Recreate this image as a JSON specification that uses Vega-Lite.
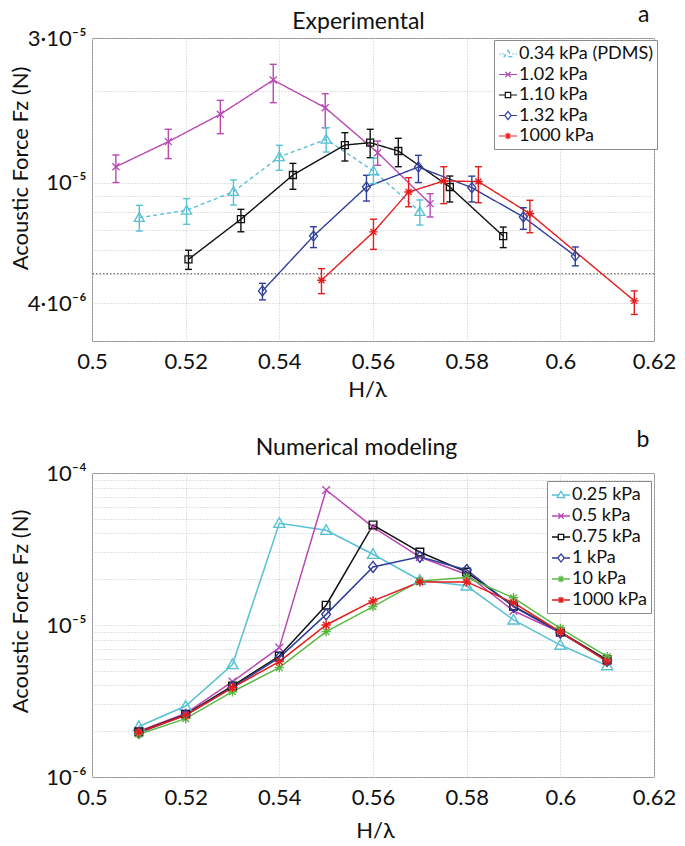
{
  "$schema": "https://vega.github.io/schema/vega-lite/v6.json",
  "padding": {"left": 8, "top": 2, "right": 5, "bottom": 5},
  "bounds": "flush",
  "spacing": 132,
  "resolve": {"scale": {"color": "independent", "shape": "independent", "strokeDash": "independent", "x": "independent", "y": "independent"}, "legend": {"color": "independent", "shape": "independent", "strokeDash": "independent"}},
  "config": {
    "font": "Lato",
    "view": {"stroke": "#8c8c8c", "strokeWidth": 1},
    "axis": {"labelFont": "Lato", "titleFont": "Lato", "labelFontSize": 22, "titleFontSize": 22, "labelColor": "#111111", "titleColor": "#111111", "titleFontWeight": "normal", "domain": false, "ticks": false, "gridColor": "#c4c4c4", "gridDash": [1, 2], "gridWidth": 1, "labelOverlap": false},
    "legend": {"labelFont": "Lato", "labelFontSize": 18, "labelColor": "#111111"}
  },
  "datasets": {
    "exp": [
      {"series": "0.34 kPa (PDMS)", "x": 0.5101, "y": 7.66e-6, "lo": 6.92e-6, "hi": 8.41e-6},
      {"series": "0.34 kPa (PDMS)", "x": 0.5202, "y": 8.10e-6, "lo": 7.28e-6, "hi": 8.85e-6},
      {"series": "0.34 kPa (PDMS)", "x": 0.5302, "y": 9.33e-6, "lo": 8.43e-6, "hi": 1.02e-5},
      {"series": "0.34 kPa (PDMS)", "x": 0.5400, "y": 1.215e-5, "lo": 1.098e-5, "hi": 1.327e-5},
      {"series": "0.34 kPa (PDMS)", "x": 0.5500, "y": 1.389e-5, "lo": 1.261e-5, "hi": 1.517e-5},
      {"series": "0.34 kPa (PDMS)", "x": 0.5601, "y": 1.092e-5, "lo": 9.92e-6, "hi": 1.203e-5},
      {"series": "0.34 kPa (PDMS)", "x": 0.5700, "y": 8.02e-6, "lo": 7.24e-6, "hi": 8.76e-6},
      {"series": "1.02 kPa", "x": 0.5051, "y": 1.128e-5, "lo": 1.0e-5, "hi": 1.233e-5},
      {"series": "1.02 kPa", "x": 0.5163, "y": 1.365e-5, "lo": 1.2e-5, "hi": 1.499e-5},
      {"series": "1.02 kPa", "x": 0.5274, "y": 1.68e-5, "lo": 1.45e-5, "hi": 1.868e-5},
      {"series": "1.02 kPa", "x": 0.5387, "y": 2.18e-5, "lo": 1.835e-5, "hi": 2.456e-5},
      {"series": "1.02 kPa", "x": 0.5498, "y": 1.766e-5, "lo": 1.517e-5, "hi": 1.965e-5},
      {"series": "1.02 kPa", "x": 0.5610, "y": 1.255e-5, "lo": 1.14e-5, "hi": 1.371e-5},
      {"series": "1.02 kPa", "x": 0.5722, "y": 8.52e-6, "lo": 7.70e-6, "hi": 9.19e-6},
      {"series": "1.10 kPa", "x": 0.5206, "y": 5.58e-6, "lo": 5.17e-6, "hi": 5.98e-6},
      {"series": "1.10 kPa", "x": 0.5318, "y": 7.57e-6, "lo": 6.88e-6, "hi": 8.16e-6},
      {"series": "1.10 kPa", "x": 0.5429, "y": 1.059e-5, "lo": 9.5e-6, "hi": 1.157e-5},
      {"series": "1.10 kPa", "x": 0.5540, "y": 1.33e-5, "lo": 1.178e-5, "hi": 1.461e-5},
      {"series": "1.10 kPa", "x": 0.5594, "y": 1.354e-5, "lo": 1.208e-5, "hi": 1.499e-5},
      {"series": "1.10 kPa", "x": 0.5654, "y": 1.271e-5, "lo": 1.128e-5, "hi": 1.40e-5},
      {"series": "1.10 kPa", "x": 0.5764, "y": 9.67e-6, "lo": 8.63e-6, "hi": 1.051e-5},
      {"series": "1.10 kPa", "x": 0.5878, "y": 6.66e-6, "lo": 6.1e-6, "hi": 7.13e-6},
      {"series": "1.32 kPa", "x": 0.5364, "y": 4.39e-6, "lo": 4.1e-6, "hi": 4.65e-6},
      {"series": "1.32 kPa", "x": 0.5473, "y": 6.66e-6, "lo": 6.1e-6, "hi": 7.15e-6},
      {"series": "1.32 kPa", "x": 0.5586, "y": 9.67e-6, "lo": 8.69e-6, "hi": 1.057e-5},
      {"series": "1.32 kPa", "x": 0.5697, "y": 1.125e-5, "lo": 1.0e-5, "hi": 1.23e-5},
      {"series": "1.32 kPa", "x": 0.5811, "y": 9.62e-6, "lo": 8.63e-6, "hi": 1.05e-5},
      {"series": "1.32 kPa", "x": 0.5921, "y": 7.70e-6, "lo": 7.01e-6, "hi": 8.26e-6},
      {"series": "1.32 kPa", "x": 0.6032, "y": 5.72e-6, "lo": 5.31e-6, "hi": 6.13e-6},
      {"series": "1000 kPa", "x": 0.5490, "y": 4.76e-6, "lo": 4.30e-6, "hi": 5.2e-6},
      {"series": "1000 kPa", "x": 0.5601, "y": 6.87e-6, "lo": 6.02e-6, "hi": 7.57e-6},
      {"series": "1000 kPa", "x": 0.5676, "y": 9.31e-6, "lo": 8.32e-6, "hi": 1.038e-5},
      {"series": "1000 kPa", "x": 0.5751, "y": 1.012e-5, "lo": 8.52e-6, "hi": 1.128e-5},
      {"series": "1000 kPa", "x": 0.5825, "y": 1.008e-5, "lo": 8.58e-6, "hi": 1.128e-5},
      {"series": "1000 kPa", "x": 0.5935, "y": 7.89e-6, "lo": 6.83e-6, "hi": 8.74e-6},
      {"series": "1000 kPa", "x": 0.6158, "y": 4.07e-6, "lo": 3.67e-6, "hi": 4.39e-6}
    ],
    "num": [
      {"series": "0.25 kPa", "x": 0.51, "y": 2.15e-6},
      {"series": "0.25 kPa", "x": 0.52, "y": 2.93e-6},
      {"series": "0.25 kPa", "x": 0.53, "y": 5.5e-6},
      {"series": "0.25 kPa", "x": 0.54, "y": 4.67e-5},
      {"series": "0.25 kPa", "x": 0.55, "y": 4.2e-5},
      {"series": "0.25 kPa", "x": 0.56, "y": 2.92e-5},
      {"series": "0.25 kPa", "x": 0.57, "y": 1.97e-5},
      {"series": "0.25 kPa", "x": 0.58, "y": 1.81e-5},
      {"series": "0.25 kPa", "x": 0.59, "y": 1.08e-5},
      {"series": "0.25 kPa", "x": 0.60, "y": 7.38e-6},
      {"series": "0.25 kPa", "x": 0.61, "y": 5.4e-6},
      {"series": "0.5 kPa", "x": 0.51, "y": 2.0e-6},
      {"series": "0.5 kPa", "x": 0.52, "y": 2.62e-6},
      {"series": "0.5 kPa", "x": 0.53, "y": 4.24e-6},
      {"series": "0.5 kPa", "x": 0.54, "y": 7.1e-6},
      {"series": "0.5 kPa", "x": 0.55, "y": 7.73e-5},
      {"series": "0.5 kPa", "x": 0.56, "y": 4.41e-5},
      {"series": "0.5 kPa", "x": 0.57, "y": 2.8e-5},
      {"series": "0.5 kPa", "x": 0.58, "y": 2.15e-5},
      {"series": "0.5 kPa", "x": 0.59, "y": 1.24e-5},
      {"series": "0.5 kPa", "x": 0.60, "y": 8.9e-6},
      {"series": "0.5 kPa", "x": 0.61, "y": 5.86e-6},
      {"series": "0.75 kPa", "x": 0.51, "y": 1.98e-6},
      {"series": "0.75 kPa", "x": 0.52, "y": 2.58e-6},
      {"series": "0.75 kPa", "x": 0.53, "y": 3.97e-6},
      {"series": "0.75 kPa", "x": 0.54, "y": 6.25e-6},
      {"series": "0.75 kPa", "x": 0.55, "y": 1.35e-5},
      {"series": "0.75 kPa", "x": 0.56, "y": 4.55e-5},
      {"series": "0.75 kPa", "x": 0.57, "y": 3.02e-5},
      {"series": "0.75 kPa", "x": 0.58, "y": 2.23e-5},
      {"series": "0.75 kPa", "x": 0.59, "y": 1.33e-5},
      {"series": "0.75 kPa", "x": 0.60, "y": 9.0e-6},
      {"series": "0.75 kPa", "x": 0.61, "y": 5.9e-6},
      {"series": "1 kPa", "x": 0.51, "y": 1.95e-6},
      {"series": "1 kPa", "x": 0.52, "y": 2.56e-6},
      {"series": "1 kPa", "x": 0.53, "y": 3.9e-6},
      {"series": "1 kPa", "x": 0.54, "y": 6.1e-6},
      {"series": "1 kPa", "x": 0.55, "y": 1.175e-5},
      {"series": "1 kPa", "x": 0.56, "y": 2.41e-5},
      {"series": "1 kPa", "x": 0.57, "y": 2.81e-5},
      {"series": "1 kPa", "x": 0.58, "y": 2.3e-5},
      {"series": "1 kPa", "x": 0.59, "y": 1.32e-5},
      {"series": "1 kPa", "x": 0.60, "y": 8.9e-6},
      {"series": "1 kPa", "x": 0.61, "y": 5.8e-6},
      {"series": "10 kPa", "x": 0.51, "y": 1.91e-6},
      {"series": "10 kPa", "x": 0.52, "y": 2.42e-6},
      {"series": "10 kPa", "x": 0.53, "y": 3.64e-6},
      {"series": "10 kPa", "x": 0.54, "y": 5.24e-6},
      {"series": "10 kPa", "x": 0.55, "y": 9.04e-6},
      {"series": "10 kPa", "x": 0.56, "y": 1.32e-5},
      {"series": "10 kPa", "x": 0.57, "y": 1.95e-5},
      {"series": "10 kPa", "x": 0.58, "y": 2.05e-5},
      {"series": "10 kPa", "x": 0.59, "y": 1.51e-5},
      {"series": "10 kPa", "x": 0.60, "y": 9.5e-6},
      {"series": "10 kPa", "x": 0.61, "y": 6.2e-6},
      {"series": "1000 kPa", "x": 0.51, "y": 1.97e-6},
      {"series": "1000 kPa", "x": 0.52, "y": 2.55e-6},
      {"series": "1000 kPa", "x": 0.53, "y": 3.87e-6},
      {"series": "1000 kPa", "x": 0.54, "y": 5.74e-6},
      {"series": "1000 kPa", "x": 0.55, "y": 1.0e-5},
      {"series": "1000 kPa", "x": 0.56, "y": 1.44e-5},
      {"series": "1000 kPa", "x": 0.57, "y": 1.92e-5},
      {"series": "1000 kPa", "x": 0.58, "y": 1.92e-5},
      {"series": "1000 kPa", "x": 0.59, "y": 1.40e-5},
      {"series": "1000 kPa", "x": 0.60, "y": 9.0e-6},
      {"series": "1000 kPa", "x": 0.61, "y": 5.75e-6}
    ]
  },
  "vconcat": [
    {
      "width": 562,
      "height": 303,
      "data": {"name": "exp"},
      "resolve": {"axis": {"x": "independent", "y": "independent"}},
      "layer": [
        {
          "data": {"values": [{"ref": 5e-6}]},
          "mark": {"type": "rule", "color": "#4a4a4a", "strokeDash": [1.5, 2], "strokeWidth": 1},
          "encoding": {
            "y": {"field": "ref", "type": "quantitative", "scale": {"type": "log", "domain": [3e-6, 3e-5], "nice": false}, "axis": null}
          }
        },
        {
          "mark": {"type": "line", "strokeWidth": 1.4},
          "encoding": {
            "x": {"field": "x", "type": "quantitative", "scale": {"domain": [0.5, 0.62], "nice": false, "zero": false},
              "axis": {"values": [0.5, 0.52, 0.54, 0.56, 0.58, 0.6, 0.62], "format": ".2~f", "labelFlush": false, "labelPadding": 10, "grid": true, "title": "H/λ", "titleX": 275, "titleY": 55, "titleAlign": "center", "titleBaseline": "alphabetic"}},
            "y": {"field": "y", "type": "quantitative", "scale": {"type": "log", "domain": [3e-6, 3e-5], "nice": false},
              "axis": {"values": [3e-6, 4e-6, 5e-6, 6e-6, 7e-6, 8e-6, 9e-6, 1e-5, 2e-5, 3e-5], "labelExpr": "datum.value > 2.9e-5 ? '3·10⁻⁵' : (datum.value > 0.99e-5 && datum.value < 1.01e-5) ? '10⁻⁵' : (datum.value > 3.99e-6 && datum.value < 4.01e-6) ? '4·10⁻⁶' : ''", "labelPadding": 6, "grid": true, "title": "Acoustic Force Fz (N)", "titleAngle": -90, "titleX": -65, "titleY": 130, "titleAlign": "center", "titleBaseline": "alphabetic"}},
            "color": {"field": "series", "type": "nominal",
              "scale": {"domain": ["0.34 kPa (PDMS)", "1.02 kPa", "1.10 kPa", "1.32 kPa", "1000 kPa"], "range": ["#56c1d3", "#b848b4", "#111111", "#2f3f9a", "#e41c1c"]},
              "legend": {"title": null, "orient": "none", "legendX": 402, "legendY": 2, "padding": 4, "strokeColor": "#8c8c8c", "fillColor": "white", "labelFontSize": 18, "symbolSize": 324, "symbolStrokeWidth": 1.2, "symbolOpacity": 1, "symbolFillColor": "transparent", "labelOffset": 1, "rowPadding": 1.5}},
            "strokeDash": {"field": "series", "type": "nominal", "scale": {"domain": ["0.34 kPa (PDMS)", "1.02 kPa", "1.10 kPa", "1.32 kPa", "1000 kPa"], "range": [[4, 3], [1, 0], [1, 0], [1, 0], [1, 0]]}, "legend": null}
          }
        },
        {
          "mark": {"type": "rule", "strokeWidth": 1.4},
          "encoding": {
            "x": {"field": "x", "type": "quantitative", "scale": {"domain": [0.5, 0.62], "nice": false, "zero": false},
              "axis": {"orient": "top", "labels": false, "grid": false, "title": "Experimental", "titleFontSize": 23, "titleX": 266, "titleY": -10, "titleAlign": "center", "titleBaseline": "alphabetic"}},
            "y": {"field": "lo", "type": "quantitative", "scale": {"type": "log", "domain": [3e-6, 3e-5], "nice": false},
              "axis": {"orient": "right", "labels": false, "grid": false, "title": "a", "titleFontSize": 23, "titleAngle": 0, "titleX": -5, "titleY": -17, "titleAlign": "right", "titleBaseline": "alphabetic"}},
            "y2": {"field": "hi"},
            "color": {"field": "series", "type": "nominal", "scale": {"domain": ["0.34 kPa (PDMS)", "1.02 kPa", "1.10 kPa", "1.32 kPa", "1000 kPa"], "range": ["#56c1d3", "#b848b4", "#111111", "#2f3f9a", "#e41c1c"]}}
          }
        },
        {
          "mark": {"type": "rule", "strokeWidth": 1.4, "xOffset": -3.5, "x2Offset": 3.5},
          "encoding": {
            "x": {"field": "x", "type": "quantitative", "scale": {"domain": [0.5, 0.62], "nice": false, "zero": false}, "axis": null},
            "x2": {"field": "x"},
            "y": {"field": "lo", "type": "quantitative", "scale": {"type": "log", "domain": [3e-6, 3e-5], "nice": false}, "axis": null},
            "color": {"field": "series", "type": "nominal", "scale": {"domain": ["0.34 kPa (PDMS)", "1.02 kPa", "1.10 kPa", "1.32 kPa", "1000 kPa"], "range": ["#56c1d3", "#b848b4", "#111111", "#2f3f9a", "#e41c1c"]}}
          }
        },
        {
          "mark": {"type": "rule", "strokeWidth": 1.4, "xOffset": -3.5, "x2Offset": 3.5},
          "encoding": {
            "x": {"field": "x", "type": "quantitative", "scale": {"domain": [0.5, 0.62], "nice": false, "zero": false}, "axis": null},
            "x2": {"field": "x"},
            "y": {"field": "hi", "type": "quantitative", "scale": {"type": "log", "domain": [3e-6, 3e-5], "nice": false}, "axis": null},
            "color": {"field": "series", "type": "nominal", "scale": {"domain": ["0.34 kPa (PDMS)", "1.02 kPa", "1.10 kPa", "1.32 kPa", "1000 kPa"], "range": ["#56c1d3", "#b848b4", "#111111", "#2f3f9a", "#e41c1c"]}}
          }
        },
        {
          "transform": [{"filter": "datum.series == '0.34 kPa (PDMS)'"}],
          "mark": {"type": "point", "filled": false, "shape": "M0,-1L1,0.75H-1Z", "size": 100, "strokeWidth": 1.3, "color": "#56c1d3", "opacity": 1},
          "encoding": {
            "x": {"field": "x", "type": "quantitative", "scale": {"domain": [0.5, 0.62], "nice": false, "zero": false}, "axis": null},
            "y": {"field": "y", "type": "quantitative", "scale": {"type": "log", "domain": [3e-6, 3e-5], "nice": false}, "axis": null}
          }
        },
        {
          "transform": [{"filter": "datum.series == '1.02 kPa'"}],
          "mark": {"type": "point", "filled": false, "shape": "M-0.7,-0.7L0.7,0.7M-0.7,0.7L0.7,-0.7", "size": 100, "strokeWidth": 1.3, "color": "#b848b4", "opacity": 1},
          "encoding": {
            "x": {"field": "x", "type": "quantitative", "scale": {"domain": [0.5, 0.62], "nice": false, "zero": false}, "axis": null},
            "y": {"field": "y", "type": "quantitative", "scale": {"type": "log", "domain": [3e-6, 3e-5], "nice": false}, "axis": null}
          }
        },
        {
          "transform": [{"filter": "datum.series == '1.10 kPa'"}],
          "mark": {"type": "point", "filled": false, "shape": "M-0.7,-0.7H0.7V0.7H-0.7Z", "size": 100, "strokeWidth": 1.3, "color": "#111111", "opacity": 1},
          "encoding": {
            "x": {"field": "x", "type": "quantitative", "scale": {"domain": [0.5, 0.62], "nice": false, "zero": false}, "axis": null},
            "y": {"field": "y", "type": "quantitative", "scale": {"type": "log", "domain": [3e-6, 3e-5], "nice": false}, "axis": null}
          }
        },
        {
          "transform": [{"filter": "datum.series == '1.32 kPa'"}],
          "mark": {"type": "point", "filled": false, "shape": "M0,-1L0.8,0L0,1L-0.8,0Z", "size": 100, "strokeWidth": 1.3, "color": "#2f3f9a", "opacity": 1},
          "encoding": {
            "x": {"field": "x", "type": "quantitative", "scale": {"domain": [0.5, 0.62], "nice": false, "zero": false}, "axis": null},
            "y": {"field": "y", "type": "quantitative", "scale": {"type": "log", "domain": [3e-6, 3e-5], "nice": false}, "axis": null}
          }
        },
        {
          "transform": [{"filter": "datum.series == '1000 kPa'"}],
          "mark": {"type": "point", "filled": false, "shape": "M-0.85,0H0.85M0,-0.85V0.85M-0.6,-0.6L0.6,0.6M-0.6,0.6L0.6,-0.6", "size": 100, "strokeWidth": 1.3, "color": "#e41c1c", "opacity": 1},
          "encoding": {
            "x": {"field": "x", "type": "quantitative", "scale": {"domain": [0.5, 0.62], "nice": false, "zero": false}, "axis": null},
            "y": {"field": "y", "type": "quantitative", "scale": {"type": "log", "domain": [3e-6, 3e-5], "nice": false}, "axis": null}
          }
        },
        {
          "mark": {"type": "point", "filled": false, "strokeWidth": 1.2, "opacity": 0},
          "encoding": {
            "x": {"field": "x", "type": "quantitative", "scale": {"domain": [0.5, 0.62], "nice": false, "zero": false}, "axis": null},
            "y": {"field": "y", "type": "quantitative", "scale": {"type": "log", "domain": [3e-6, 3e-5], "nice": false}, "axis": null},
            "color": {"field": "series", "type": "nominal", "scale": {"domain": ["0.34 kPa (PDMS)", "1.02 kPa", "1.10 kPa", "1.32 kPa", "1000 kPa"], "range": ["#56c1d3", "#b848b4", "#111111", "#2f3f9a", "#e41c1c"]}},
            "shape": {"field": "series", "type": "nominal", "legend": null,
              "scale": {"domain": ["0.34 kPa (PDMS)", "1.02 kPa", "1.10 kPa", "1.32 kPa", "1000 kPa"], "range": ["M-1,0H-0.82M-0.66,0H-0.48M0.48,0H0.66M0.82,0H1M0,-0.42L0.42,0.3H-0.42Z", "M-1,0H1M-0.3,-0.3L0.3,0.3M-0.3,0.3L0.3,-0.3", "M-1,0H-0.3M0.3,0H1M-0.3,-0.3H0.3V0.3H-0.3Z", "M-1,0H-0.36M0.36,0H1M0,-0.45L0.36,0L0,0.45L-0.36,0Z", "M-1,0H1M0,-0.36V0.36M-0.27,-0.27L0.27,0.27M-0.27,0.27L0.27,-0.27"]}}
          }
        }
      ]
    },
    {
      "width": 562,
      "height": 304,
      "data": {"name": "num"},
      "resolve": {"axis": {"x": "independent", "y": "independent"}},
      "layer": [
        {
          "mark": {"type": "line", "strokeWidth": 1.5},
          "encoding": {
            "x": {"field": "x", "type": "quantitative", "scale": {"domain": [0.5, 0.62], "nice": false, "zero": false},
              "axis": {"values": [0.5, 0.52, 0.54, 0.56, 0.58, 0.6, 0.62], "format": ".2~f", "labelFlush": false, "labelPadding": 10, "grid": true, "title": "H/λ", "titleX": 283, "titleY": 60, "titleAlign": "center", "titleBaseline": "alphabetic"}},
            "y": {"field": "y", "type": "quantitative", "scale": {"type": "log", "domain": [1e-6, 1e-4], "nice": false},
              "axis": {"values": [1e-6, 2e-6, 3e-6, 4e-6, 5e-6, 6e-6, 7e-6, 8e-6, 9e-6, 1e-5, 2e-5, 3e-5, 4e-5, 5e-5, 6e-5, 7e-5, 8e-5, 9e-5, 1e-4], "labelExpr": "datum.value > 0.99e-4 ? '10⁻⁴' : (datum.value > 0.99e-5 && datum.value < 1.01e-5) ? '10⁻⁵' : (datum.value < 1.01e-6) ? '10⁻⁶' : ''", "labelPadding": 6, "grid": true, "title": "Acoustic Force Fz (N)", "titleAngle": -90, "titleX": -65, "titleY": 138, "titleAlign": "center", "titleBaseline": "alphabetic"}},
            "color": {"field": "series", "type": "nominal",
              "scale": {"domain": ["0.25 kPa", "0.5 kPa", "0.75 kPa", "1 kPa", "10 kPa", "1000 kPa"], "range": ["#56c1d3", "#b848b4", "#111111", "#2f3f9a", "#5cb845", "#e41c1c"]},
              "legend": {"title": null, "orient": "none", "legendX": 455, "legendY": 8, "padding": 4, "strokeColor": "#8c8c8c", "fillColor": "white", "labelFontSize": 18, "symbolSize": 324, "symbolStrokeWidth": 1.3, "symbolOpacity": 1, "symbolFillColor": "transparent", "labelOffset": 1, "rowPadding": 2}}
          }
        },
        {
          "transform": [{"filter": "datum.series == '0.25 kPa'"}],
          "mark": {"type": "point", "filled": false, "shape": "M0,-1L1,0.75H-1Z", "size": 121, "strokeWidth": 1.4, "color": "#56c1d3", "opacity": 1},
          "encoding": {
            "x": {"field": "x", "type": "quantitative", "scale": {"domain": [0.5, 0.62], "nice": false, "zero": false},
              "axis": {"orient": "top", "labels": false, "grid": false, "title": "Numerical modeling", "titleFontSize": 23, "titleX": 264, "titleY": -19, "titleAlign": "center", "titleBaseline": "alphabetic"}},
            "y": {"field": "y", "type": "quantitative", "scale": {"type": "log", "domain": [1e-6, 1e-4], "nice": false},
              "axis": {"orient": "right", "labels": false, "grid": false, "title": "b", "titleFontSize": 23, "titleAngle": 0, "titleX": -5, "titleY": -27, "titleAlign": "right", "titleBaseline": "alphabetic"}}
          }
        },
        {
          "transform": [{"filter": "datum.series == '0.5 kPa'"}],
          "mark": {"type": "point", "filled": false, "shape": "M-0.7,-0.7L0.7,0.7M-0.7,0.7L0.7,-0.7", "size": 121, "strokeWidth": 1.4, "color": "#b848b4", "opacity": 1},
          "encoding": {
            "x": {"field": "x", "type": "quantitative", "scale": {"domain": [0.5, 0.62], "nice": false, "zero": false}, "axis": null},
            "y": {"field": "y", "type": "quantitative", "scale": {"type": "log", "domain": [1e-6, 1e-4], "nice": false}, "axis": null}
          }
        },
        {
          "transform": [{"filter": "datum.series == '0.75 kPa'"}],
          "mark": {"type": "point", "filled": false, "shape": "M-0.7,-0.7H0.7V0.7H-0.7Z", "size": 121, "strokeWidth": 1.4, "color": "#111111", "opacity": 1},
          "encoding": {
            "x": {"field": "x", "type": "quantitative", "scale": {"domain": [0.5, 0.62], "nice": false, "zero": false}, "axis": null},
            "y": {"field": "y", "type": "quantitative", "scale": {"type": "log", "domain": [1e-6, 1e-4], "nice": false}, "axis": null}
          }
        },
        {
          "transform": [{"filter": "datum.series == '1 kPa'"}],
          "mark": {"type": "point", "filled": false, "shape": "M0,-1L0.8,0L0,1L-0.8,0Z", "size": 121, "strokeWidth": 1.4, "color": "#2f3f9a", "opacity": 1},
          "encoding": {
            "x": {"field": "x", "type": "quantitative", "scale": {"domain": [0.5, 0.62], "nice": false, "zero": false}, "axis": null},
            "y": {"field": "y", "type": "quantitative", "scale": {"type": "log", "domain": [1e-6, 1e-4], "nice": false}, "axis": null}
          }
        },
        {
          "transform": [{"filter": "datum.series == '10 kPa'"}],
          "mark": {"type": "point", "filled": false, "shape": "M-0.85,0H0.85M0,-0.85V0.85M-0.6,-0.6L0.6,0.6M-0.6,0.6L0.6,-0.6", "size": 121, "strokeWidth": 1.4, "color": "#5cb845", "opacity": 1},
          "encoding": {
            "x": {"field": "x", "type": "quantitative", "scale": {"domain": [0.5, 0.62], "nice": false, "zero": false}, "axis": null},
            "y": {"field": "y", "type": "quantitative", "scale": {"type": "log", "domain": [1e-6, 1e-4], "nice": false}, "axis": null}
          }
        },
        {
          "transform": [{"filter": "datum.series == '1000 kPa'"}],
          "mark": {"type": "point", "filled": false, "shape": "M-0.85,0H0.85M0,-0.85V0.85M-0.6,-0.6L0.6,0.6M-0.6,0.6L0.6,-0.6", "size": 121, "strokeWidth": 1.4, "color": "#e41c1c", "opacity": 1},
          "encoding": {
            "x": {"field": "x", "type": "quantitative", "scale": {"domain": [0.5, 0.62], "nice": false, "zero": false}, "axis": null},
            "y": {"field": "y", "type": "quantitative", "scale": {"type": "log", "domain": [1e-6, 1e-4], "nice": false}, "axis": null}
          }
        },
        {
          "mark": {"type": "point", "filled": false, "strokeWidth": 1.3, "opacity": 0},
          "encoding": {
            "x": {"field": "x", "type": "quantitative", "scale": {"domain": [0.5, 0.62], "nice": false, "zero": false}, "axis": null},
            "y": {"field": "y", "type": "quantitative", "scale": {"type": "log", "domain": [1e-6, 1e-4], "nice": false}, "axis": null},
            "color": {"field": "series", "type": "nominal", "scale": {"domain": ["0.25 kPa", "0.5 kPa", "0.75 kPa", "1 kPa", "10 kPa", "1000 kPa"], "range": ["#56c1d3", "#b848b4", "#111111", "#2f3f9a", "#5cb845", "#e41c1c"]}},
            "shape": {"field": "series", "type": "nominal", "legend": null,
              "scale": {"domain": ["0.25 kPa", "0.5 kPa", "0.75 kPa", "1 kPa", "10 kPa", "1000 kPa"], "range": ["M-1,0H-0.25M0.25,0H1M0,-0.42L0.42,0.3H-0.42Z", "M-1,0H1M-0.3,-0.3L0.3,0.3M-0.3,0.3L0.3,-0.3", "M-1,0H-0.3M0.3,0H1M-0.3,-0.3H0.3V0.3H-0.3Z", "M-1,0H-0.36M0.36,0H1M0,-0.45L0.36,0L0,0.45L-0.36,0Z", "M-1,0H1M0,-0.36V0.36M-0.27,-0.27L0.27,0.27M-0.27,0.27L0.27,-0.27", "M-1,0H1M0,-0.36V0.36M-0.27,-0.27L0.27,0.27M-0.27,0.27L0.27,-0.27"]}}
          }
        }
      ]
    }
  ]
}
